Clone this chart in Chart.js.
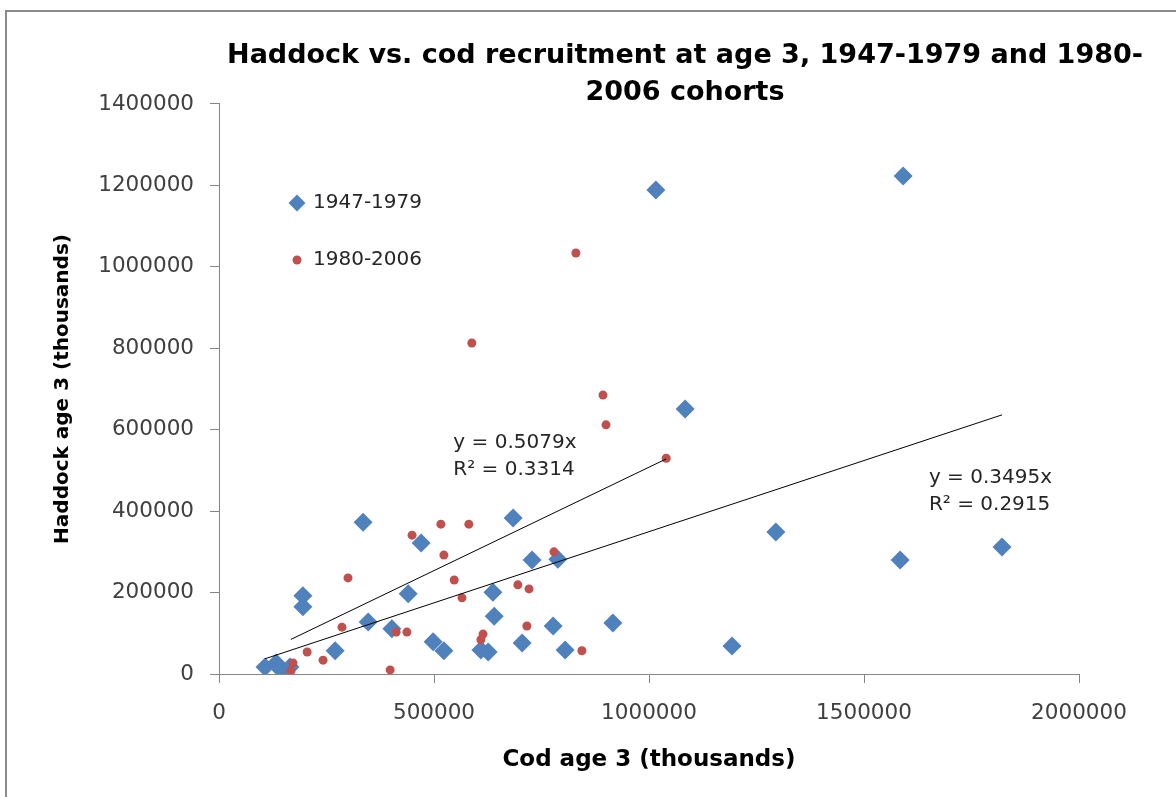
<!DOCTYPE html>
<html>
<head>
<meta charset="utf-8">
<title>Haddock vs. cod recruitment</title>
<script src="https://cdn.jsdelivr.net/npm/chart.js@4.4.0/dist/chart.umd.min.js"></script>
<style>
    html, body { margin: 0; padding: 0; background: #fff; overflow: hidden; }
    #frame { position: absolute; left: 5px; top: 10px; width: 1400px; height: 900px; border: 2px solid #8a8a8a; }
    #chart { position: absolute; left: 0; top: 0; }
</style>
</head>
<body>
<div id="frame"></div>
<canvas id="chart" width="1370" height="797"></canvas>
<script>
// Cohorts 1947-1979 (thousands)
const cod1947 = [1016000, 1591000, 1084000, 335000, 684000, 470000, 728000, 788000, 1295000, 1584000,
    1821000, 195000, 195000, 440000, 637000, 347000, 640000, 916000, 402000, 777000,
    1193000, 270000, 498000, 523000, 705000, 805000, 609000, 626000, 107000, 133000, 144000, 165000];
const haddock1947 = [1189000, 1223000, 651000, 373000, 383000, 322000, 280000, 282000, 349000, 280000,
    312000, 192000, 165000, 197000, 201000, 128000, 142000, 125000, 111000, 118000,
    69000, 57000, 79000, 57000, 76000, 59000, 59000, 54000, 17000, 27000, 10000, 17000];

// Cohorts 1980-2006 (thousands)
const cod1980 = [830000, 588000, 893000, 900000, 1040000, 516000, 581000, 449000, 523000, 300000,
    547000, 565000, 695000, 721000, 779000, 286000, 412000, 437000, 614000, 609000,
    716000, 844000, 205000, 242000, 398000, 172000, 167000];
const haddock1980 = [1034000, 813000, 685000, 612000, 530000, 368000, 368000, 341000, 292000, 236000,
    231000, 187000, 219000, 209000, 300000, 115000, 103000, 103000, 98000, 84000,
    118000, 57000, 54000, 34000, 10000, 27000, 7000];

const seriesNames = ['1947-1979', '1980-2006'];
const trendSlopes = [0.3495, 0.5079];
const trendR2 = [0.2915, 0.3314];

const xTicks = [0, 500000, 1000000, 1500000, 2000000];
const yTicks = [0, 200000, 400000, 600000, 800000, 1000000, 1200000, 1400000];

function toPoints(xs, ys) {
    return xs.map((x, i) => ({ x: x, y: ys[i] }));
}

// linear trend through the origin, drawn over the range of the cohort
function trendPoints(xs, slope) {
    const lo = Math.min(...xs);
    const hi = Math.max(...xs);
    return [{ x: lo, y: lo * slope }, { x: hi, y: hi * slope }];
}

const blue = '#4F81BD';
const red = '#C0504D';
const axisGrey = '#868686';
const textFont = '"DejaVu Sans", "Liberation Sans", sans-serif';

// legend drawn inside the plot area, like the original
const insideLegend = {
    id: 'insideLegend',
    afterDraw(chart) {
        const ctx = chart.ctx;
        const area = chart.chartArea;
        ctx.save();
        [0, 1].forEach(i => {
            const ds = chart.data.datasets[i];
            const y = area.top + 99 + i * 57;
            ctx.fillStyle = ds.backgroundColor;
            ctx.strokeStyle = ds.borderColor;
            Chart.helpers.drawPoint(ctx, {
                pointStyle: ds.pointStyle,
                radius: i === 0 ? 8.5 : 4.5,
                rotation: 0,
                borderWidth: 0
            }, area.left + 78, y);
            ctx.fillStyle = '#262626';
            ctx.font = '20px ' + textFont;
            ctx.textAlign = 'left';
            ctx.textBaseline = 'middle';
            ctx.fillText(ds.label, area.left + 94, y);
        });
        ctx.restore();
    }
};

// equation + R² labels next to each trend line
const trendLabels = {
    id: 'trendLabels',
    afterDatasetsDraw(chart, args, opts) {
        const ctx = chart.ctx;
        const xs = chart.scales.x;
        const ys = chart.scales.y;
        ctx.save();
        ctx.font = '20px ' + textFont;
        ctx.fillStyle = '#262626';
        ctx.textAlign = 'left';
        ctx.textBaseline = 'middle';
        opts.anchors.forEach((a, i) => {
            const px = xs.getPixelForValue(a[0]);
            const py = ys.getPixelForValue(a[1]);
            ctx.fillText('y = ' + trendSlopes[i] + 'x', px, py);
            ctx.fillText('R\u00B2 = ' + trendR2[i], px, py + 27);
        });
        ctx.restore();
    }
};

function createScatterChart() {
    const ctx = document.getElementById('chart').getContext('2d');
    const data = {
        datasets: [{
            label: seriesNames[0],
            data: toPoints(cod1947, haddock1947),
            pointStyle: 'rectRot',
            pointRadius: 9.5,
            pointHoverRadius: 9.5,
            backgroundColor: blue,
            borderColor: blue,
            borderWidth: 0,
            order: 3
        }, {
            label: seriesNames[1],
            data: toPoints(cod1980, haddock1980),
            pointStyle: 'circle',
            pointRadius: 4.5,
            pointHoverRadius: 4.5,
            backgroundColor: red,
            borderColor: red,
            borderWidth: 0,
            order: 2
        }, {
            type: 'line',
            label: 'Linear (' + seriesNames[0] + ')',
            data: trendPoints(cod1947, trendSlopes[0]),
            borderColor: '#000',
            borderWidth: 1,
            pointRadius: 0,
            fill: false,
            order: 1
        }, {
            type: 'line',
            label: 'Linear (' + seriesNames[1] + ')',
            data: trendPoints(cod1980, trendSlopes[1]),
            borderColor: '#000',
            borderWidth: 1,
            pointRadius: 0,
            fill: false,
            order: 1
        }]
    };

    new Chart(ctx, {
        type: 'scatter',
        data: data,
        options: {
            responsive: false,
            animation: false,
            layout: { padding: 0 },
            plugins: {
                legend: { display: false },
                tooltip: { enabled: false },
                title: {
                    display: true,
                    text: ['Haddock vs. cod recruitment at age 3, 1947-1979 and 1980-', '2006 cohorts'],
                    color: '#000',
                    font: { family: textFont, size: 27, weight: 'bold', lineHeight: 1.37 },
                    padding: { top: 37, bottom: -7 }
                },
                trendLabels: {
                    anchors: [[1651000, 481000], [545000, 567000]]
                }
            },
            scales: {
                x: {
                    type: 'linear',
                    min: 0,
                    max: 2000000,
                    afterBuildTicks: s => { s.ticks = xTicks.map(v => ({ value: v })); },
                    afterFit: s => { s.height = 123; },
                    grid: { drawOnChartArea: false, drawTicks: true, tickLength: 9, color: axisGrey },
                    border: { display: true, color: axisGrey, width: 1 },
                    ticks: {
                        color: '#404040',
                        font: { family: textFont, size: 21.5 },
                        padding: 18,
                        maxRotation: 0,
                        autoSkip: false,
                        callback: v => String(v)
                    },
                    title: {
                        display: true,
                        text: 'Cod age 3 (thousands)',
                        color: '#000',
                        font: { family: textFont, size: 23, weight: 'bold' },
                        padding: { top: 0, bottom: 23 }
                    }
                },
                y: {
                    type: 'linear',
                    position: 'left',
                    min: 0,
                    max: 1400000,
                    afterBuildTicks: s => { s.ticks = yTicks.map(v => ({ value: v })); },
                    afterFit: s => { s.width = 219; },
                    grid: { drawOnChartArea: false, drawTicks: true, tickLength: 9, color: axisGrey },
                    border: { display: true, color: axisGrey, width: 1 },
                    ticks: {
                        color: '#404040',
                        font: { family: textFont, size: 21.5 },
                        padding: 16,
                        callback: v => String(v)
                    },
                    title: {
                        display: true,
                        text: 'Haddock age 3 (thousands)',
                        color: '#000',
                        font: { family: textFont, size: 20, weight: 'bold' },
                        padding: { top: 51, bottom: 0 }
                    }
                },
                // empty right-hand box so the title centres where the original had it
                yRight: {
                    type: 'linear',
                    position: 'right',
                    display: true,
                    afterFit: s => { s.width = 291; },
                    grid: { display: false },
                    border: { display: false },
                    ticks: { display: false }
                }
            }
        },
        plugins: [insideLegend, trendLabels]
    });
}

createScatterChart();
</script>
</body>
</html>
